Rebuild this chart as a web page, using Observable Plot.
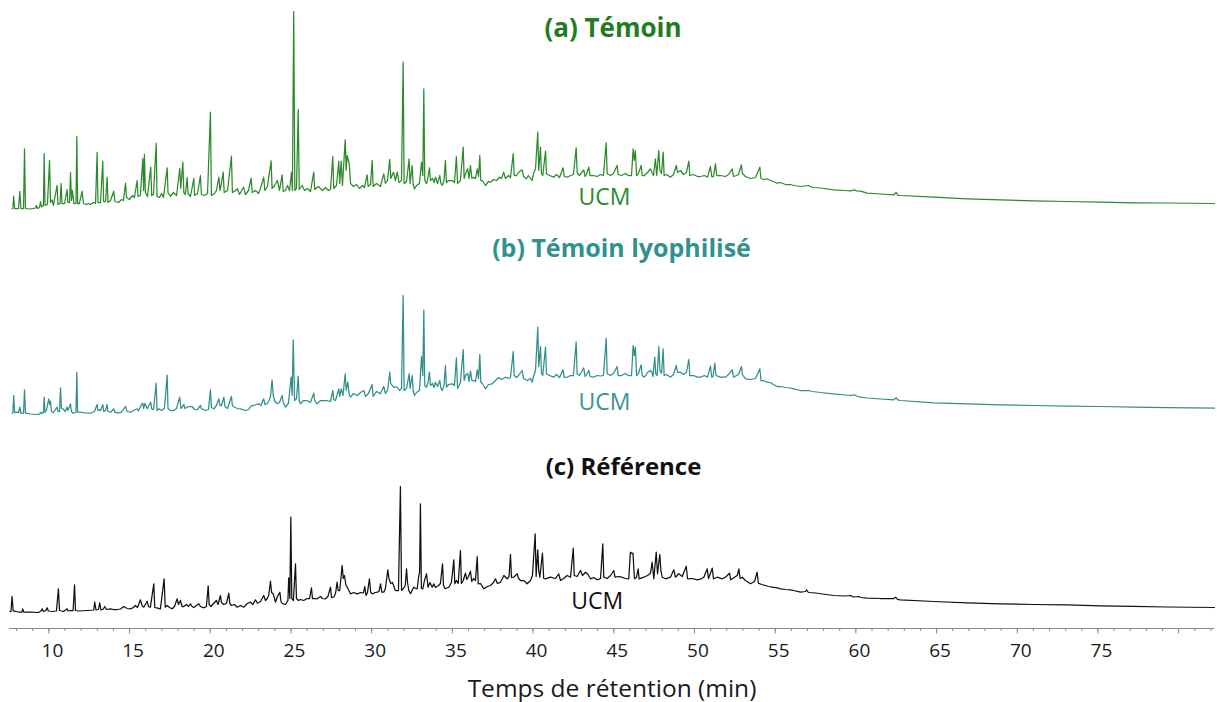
<!DOCTYPE html>
<html><head><meta charset="utf-8">
<script src="https://cdn.jsdelivr.net/npm/d3@7"></script>
<script src="https://cdn.jsdelivr.net/npm/@observablehq/plot@0.6"></script>
<style>
html,body{margin:0;padding:0;background:#fff;}
#chart{width:1217px;height:702px;}
</style></head><body><div id="chart"></div>
<script>
// ---- Data (retention time in min, signal in arbitrary units) ----
const sampleKeys = ["a", "b", "c"];
const sampleTitles = ["(a) Témoin", "(b) Témoin lyophilisé", "(c) Référence"];
const ucmLabel = "UCM";
const axisTitle = "Temps de rétention (min)";
const majorTicks = [10, 15, 20, 25, 30, 35, 40, 45, 50, 55, 60, 65, 70, 75, 80];
const majorTickLabels = ["10","15","20","25","30","35","40","45","50","55","60","65","70","75",""];
const minorTicks = [8,9,10,11,12,13,14,15,16,17,18,19,20,21,22,23,24,25,26,27,28,29,30,31,32,33,34,35,36,37,38,39,40,41,42,43,44,45,46,47,48,49,50,51,52,53,54,55,56,57,58,59,60,61,62,63,64,65,66,67,68,69,70,71,72,73,74,75,76,77,78,79,80,81,82];

const temoin = [
[7.72,15.7],[7.77,16],[7.82,28.3],[7.88,16],[8.12,16],[8.20,33],[8.27,16],[8.43,16],[8.49,75.7],[8.55,16],
[8.86,15.5],[9.17,16.5],[9.23,19],[9.29,16],[9.42,17],[9.48,23],[9.54,17.5],[9.66,19],[9.71,71],[9.76,19],
[9.91,20],[10.04,64],[10.10,22],[10.20,24.7],[10.28,19],[10.51,39],[10.56,20],[10.69,21],[10.76,41],[10.81,21],
[10.97,21],[11.13,35],[11.18,22],[11.28,22],[11.34,52],[11.40,24],[11.46,34],[11.55,21],[11.68,21],[11.73,88],
[11.78,21],[11.89,21],[12.06,33.3],[12.14,21],[12.33,20],[12.45,21],[12.58,20],[12.76,22],[12.89,21],[12.99,72],
[13.04,22],[13.20,22],[13.34,63.3],[13.39,23],[13.51,23],[13.61,47.3],[13.66,22],[13.82,24],[14.02,33.3],[14.09,23],
[14.31,22],[14.50,25],[14.62,24],[14.75,41.3],[14.81,27],[14.99,25],[15.18,29],[15.30,27],[15.47,44],[15.52,28],
[15.67,29],[15.82,66],[15.87,34],[15.92,70],[15.98,32],[16.11,28],[16.31,57.3],[16.37,29],[16.48,30],[16.65,81.3],
[16.70,28],[16.85,27],[16.98,31],[17.10,27],[17.33,56.7],[17.38,32],[17.53,28],[17.72,32],[17.91,29],[18.11,56],
[18.17,36],[18.30,62.3],[18.36,32],[18.46,30],[18.57,47],[18.62,31],[18.77,28],[18.98,46],[19.03,29],[19.21,31],
[19.39,49],[19.45,30],[19.64,29],[19.83,31],[20.01,112.3],[20.07,29],[20.26,31],[20.38,34],[20.53,47.3],[20.60,34],
[20.69,41],[20.80,52.3],[20.86,32],[21.07,34],[21.31,68.3],[21.37,32],[21.56,34],[21.68,35.7],[21.81,30],[22.06,37.3],
[22.18,30],[22.37,34],[22.53,46.3],[22.60,32],[22.80,34],[22.99,31],[23.11,36],[23.31,47.3],[23.38,34],[23.54,38],
[23.77,63.7],[23.83,36],[23.98,39],[24.16,44],[24.29,34],[24.45,49.7],[24.52,33],[24.66,34],[24.78,39],[24.91,34],
[25.03,52.3],[25.09,34],[25.17,213],[25.24,34],[25.34,36],[25.45,115],[25.51,35],[25.69,39],[25.84,34],[26.02,36],
[26.21,33],[26.41,52.3],[26.47,35],[26.70,38],[26.95,34],[27.14,37],[27.32,34],[27.45,35],[27.59,68],[27.65,36],
[27.82,39],[27.96,63.3],[28.02,41],[28.11,63.3],[28.19,39],[28.36,84.7],[28.42,54],[28.48,69],[28.61,60.7],[28.69,41],
[28.87,38],[29.06,40],[29.24,36],[29.43,39],[29.55,37],[29.72,49.7],[29.78,38],[29.93,40],[30.03,64],[30.09,38],
[30.30,41],[30.54,38],[30.75,50.7],[30.85,41],[30.98,44],[31.12,65],[31.18,46],[31.35,52.3],[31.47,44],[31.58,52.3],
[31.69,42],[31.85,44],[31.95,162.3],[32.01,41],[32.16,43],[32.32,65.7],[32.38,41],[32.51,59],[32.57,40],[32.65,35.7],
[32.78,39],[32.96,41],[33.09,62.3],[33.17,49],[33.23,135.7],[33.29,44],[33.40,40.7],[33.49,48],[33.58,56.7],[33.64,44],
[33.77,46],[33.87,42],[33.95,47.3],[34.08,41],[34.22,49],[34.29,41],[34.37,39],[34.48,44],[34.57,64],[34.63,42],
[34.76,44],[34.99,44],[35.13,42],[35.25,68],[35.32,41],[35.50,44],[35.67,77.3],[35.73,46],[35.81,50.7],[35.95,55.7],
[36.03,46],[36.12,59],[36.21,46],[36.33,47.3],[36.43,46],[36.54,55.7],[36.62,48],[36.70,69],[36.76,44],[36.86,44],
[37.05,39],[37.24,43],[37.36,42.3],[37.55,45],[37.73,44],[37.92,47.3],[38.04,46],[38.18,52.3],[38.29,46],[38.48,49],
[38.60,47],[38.77,70.7],[38.83,49],[38.97,49],[39.10,52],[39.32,54.7],[39.41,48],[39.59,45.7],[39.71,49],[39.94,44],
[40.03,51],[40.15,55.7],[40.29,92.3],[40.35,54],[40.46,77.3],[40.52,51],[40.60,49],[40.77,73.3],[40.83,50.7],[41.02,49],
[41.28,47.3],[41.45,50],[41.64,47],[41.86,56.7],[41.93,48],[42.11,47.3],[42.32,49],[42.50,50],[42.67,76.7],[42.73,52],
[42.87,49],[43.14,54.7],[43.22,48],[43.31,50],[43.45,57.3],[43.53,49],[43.74,49],[43.97,48],[44.18,50],[44.36,49],
[44.53,81.7],[44.59,50.7],[44.80,49],[44.98,51],[45.21,59],[45.27,50],[45.48,49],[45.72,51],[45.91,49],[46.10,49],
[46.20,75.7],[46.27,64],[46.34,74],[46.41,49],[46.53,51],[46.70,59],[46.76,49],[46.90,49],[47.09,52],[47.27,55.7],
[47.37,52],[47.46,49],[47.58,65.7],[47.66,49],[47.79,74],[47.86,54],[47.96,51],[48.06,72.3],[48.12,49],[48.27,50],
[48.51,47.3],[48.70,50],[48.88,59],[48.95,52],[49.13,54],[49.32,50],[49.50,52],[49.65,63.3],[49.71,49],[49.94,50],
[50.19,48],[50.37,48],[50.62,49],[50.81,47.3],[50.99,58],[51.07,48],[51.18,48],[51.30,60.7],[51.38,49],[51.61,49],
[51.92,48],[52.11,50],[52.34,55.7],[52.42,48],[52.60,49],[52.73,50],[52.91,59.7],[52.97,51],[53.16,48],[53.47,46],
[53.78,47],[54.05,57.3],[54.12,46],[54.28,45],[54.50,45.7],[54.71,44],[54.89,43],[55.12,41.3],[55.33,42],[55.64,40],
[55.95,40],[56.15,39],[56.57,38],[57.06,39],[57.31,37],[57.81,36.5],[58.61,34.7],[59.36,34],[59.67,33.7],[59.91,34.7],
[60.04,33.5],[60.29,33.3],[60.70,31.3],[61.52,30.5],[62.35,29.7],[62.50,32],[62.61,29.2],[62.76,29],[64.83,27.3],[66.90,25.7],
[68.96,24.7],[71.00,23.7],[73.09,23],[75.16,22.3],[77.20,21.7],[79.29,21.5],[82.22,21]
];

const temoinLyophilise = [
[7.72,13.3],[7.77,13.5],[7.82,31],[7.88,14],[8.03,14.3],[8.12,14],[8.20,19.3],[8.27,13.3],[8.43,13.3],[8.49,36.7],
[8.55,13.3],[8.86,12.5],[9.17,12],[9.42,12.3],[9.48,14.3],[9.57,13],[9.66,14],[9.71,29.3],[9.76,14],[9.85,16],
[9.99,27.7],[10.05,22],[10.10,25.3],[10.16,15],[10.28,14],[10.51,19.3],[10.56,15],[10.66,15],[10.72,38.7],[10.78,18],
[10.88,17.7],[11.00,15],[11.13,19.3],[11.18,16],[11.34,22.7],[11.40,15],[11.50,13.3],[11.68,14],[11.73,54],[11.78,14.3],
[11.91,14.3],[12.27,13.5],[12.58,13.3],[12.82,15],[12.99,22],[13.04,16],[13.15,16.7],[13.21,16],[13.34,22],[13.40,15],
[13.51,16],[13.61,22],[13.66,15],[13.82,14.3],[14.02,17.7],[14.09,14.3],[14.31,13.3],[14.50,14.3],[14.75,20],[14.84,15],
[15.05,14.3],[15.24,16],[15.47,17.7],[15.55,15.5],[15.71,21],[15.82,23.3],[15.87,18],[15.95,23],[16.09,17.7],[16.31,24.3],
[16.37,17.7],[16.48,17],[16.65,43.3],[16.70,16],[16.81,17.7],[16.98,16],[17.16,18],[17.33,51.3],[17.38,18],[17.53,16],
[17.74,16],[17.91,18],[18.11,29.3],[18.18,18],[18.28,20],[18.36,22],[18.43,18],[18.65,20],[18.88,20],[19.02,17],
[19.19,16.7],[19.39,21],[19.45,18],[19.70,16],[19.89,17],[20.01,36.7],[20.07,19],[20.22,17.7],[20.38,21],[20.53,27.7],
[20.60,21],[20.69,21],[20.84,29.3],[20.91,20],[21.07,18],[21.31,30],[21.37,21],[21.50,19.3],[21.68,18],[21.87,17.7],
[22.18,16],[22.37,17],[22.55,21],[22.69,21],[22.86,22],[23.00,22.7],[23.14,21],[23.31,27.7],[23.39,22],[23.52,22.7],
[23.64,26],[23.73,30],[23.83,46.7],[23.90,31],[23.98,26],[24.14,22.7],[24.29,24],[24.45,31],[24.52,24],[24.66,19.3],
[24.84,23],[25.01,49.3],[25.07,31],[25.14,86.7],[25.22,26],[25.34,28],[25.45,50.3],[25.51,26],[25.59,22.7],[25.77,26],
[26.00,26],[26.21,24],[26.41,33.3],[26.47,26],[26.62,22.7],[26.83,26],[27.03,26],[27.24,26],[27.45,25],[27.59,36],
[27.65,27],[27.76,26],[27.96,37.7],[28.02,30],[28.11,37.7],[28.22,31],[28.36,52.7],[28.42,36],[28.52,44.3],[28.62,31],
[28.69,29.3],[28.87,33],[29.10,31],[29.31,34],[29.51,36],[29.62,30],[29.80,33],[30.03,42],[30.09,30],[30.30,35],
[30.54,32.7],[30.75,40],[30.85,33],[31.00,37],[31.12,54.3],[31.18,43],[31.35,39.3],[31.58,39.3],[31.72,36],[31.85,38],
[31.95,131],[32.01,36],[32.16,38],[32.32,52.7],[32.38,38],[32.51,51],[32.57,36],[32.65,31],[32.78,34],[32.96,36],
[33.09,70],[33.17,51],[33.23,116.7],[33.29,41],[33.40,39.3],[33.49,44],[33.58,54.3],[33.64,41],[33.77,43],[33.87,39],
[33.95,44.3],[34.08,40],[34.22,46],[34.29,38],[34.37,36],[34.48,41],[34.57,61],[34.63,39.3],[34.76,42],[34.99,42.7],
[35.13,41],[35.25,68.7],[35.32,38],[35.50,44],[35.67,77],[35.73,46],[35.81,51],[35.95,53],[36.03,45],[36.12,55.3],
[36.21,46],[36.33,46],[36.43,45],[36.54,56.7],[36.62,48],[36.70,72],[36.76,44.3],[36.86,43],[37.05,37.7],[37.24,42],
[37.47,42.7],[37.67,46],[37.86,49],[38.04,47],[38.29,49.3],[38.48,48],[38.60,49],[38.77,75],[38.83,51],[38.97,49],
[39.10,51],[39.32,56],[39.41,48],[39.64,46],[39.84,48],[39.94,44.3],[40.03,50],[40.15,56],[40.29,99.3],[40.35,60],
[40.46,80],[40.52,53],[40.60,51],[40.77,79.3],[40.83,52.7],[41.02,51],[41.28,49.3],[41.45,52],[41.64,49],[41.86,56.7],
[41.93,49],[42.11,49.3],[42.32,51],[42.50,51],[42.67,84.7],[42.73,52.7],[42.87,51],[43.14,58.7],[43.22,50],[43.31,52],
[43.45,56],[43.53,50],[43.74,49.3],[43.97,51],[44.18,50.5],[44.36,51],[44.53,88.3],[44.59,52.7],[44.80,51],[44.98,53],
[45.21,60],[45.27,51],[45.48,51],[45.72,53],[45.91,51],[46.10,51],[46.20,81],[46.27,71],[46.34,79.3],[46.41,51],
[46.53,53],[46.70,61.7],[46.76,51],[46.90,49.3],[47.09,54],[47.27,56],[47.37,54],[47.43,50],[47.54,69.3],[47.60,52.7],
[47.69,51],[47.79,80],[47.86,56],[47.96,53],[48.06,77.7],[48.12,51],[48.27,52],[48.51,49.3],[48.70,52],[48.88,61],
[48.95,54],[49.13,54.3],[49.32,52],[49.50,54],[49.65,67],[49.71,51],[49.94,51],[50.19,49.3],[50.37,49.3],[50.62,51],
[50.81,49.3],[50.99,60.3],[51.07,49.3],[51.15,50],[51.26,63.3],[51.33,51],[51.61,49.3],[51.92,49.3],[52.11,52],[52.34,56.7],
[52.42,49.3],[52.60,51],[52.73,52],[52.91,60],[52.97,52],[53.16,47.7],[53.47,47],[53.78,48],[54.05,57.7],[54.12,46],
[54.28,46],[54.50,44.3],[54.71,44],[54.89,42],[55.12,40],[55.33,40],[55.64,39],[55.95,38.5],[56.15,37.7],[56.57,36],
[57.06,36],[57.31,35],[57.81,34],[58.61,32.7],[59.36,31.5],[59.67,31],[59.91,31.7],[60.04,30.5],[60.29,29.3],[60.70,28.5],
[61.52,27.5],[62.35,26.7],[62.50,28.7],[62.61,26.5],[62.76,26],[64.83,23.7],[66.90,22.7],[68.96,21.7],[71.00,21],[73.09,20.3],
[75.16,20],[77.20,19.3],[79.29,18.8],[82.22,18.3]
];

const reference = [
[7.58,17],[7.65,17],[7.72,32],[7.79,17.5],[7.87,17.3],[8.12,16.5],[8.33,16.5],[8.38,19.7],[8.44,16.3],[8.86,16.3],
[9.35,16],[9.51,17.5],[9.58,19.7],[9.66,17],[9.82,18],[9.89,20.7],[9.97,17.5],[10.22,17],[10.47,17.5],[10.59,39.7],
[10.66,18],[10.90,17],[11.13,19.7],[11.19,17.5],[11.34,18],[11.50,18],[11.59,43.7],[11.65,18],[11.83,17.5],[12.37,18],
[12.78,18.5],[12.84,26.3],[12.92,18.5],[13.07,19],[13.15,25.7],[13.23,18.5],[13.38,19.5],[13.46,22],[13.57,19],[13.82,19.7],
[14.00,19],[14.23,19],[14.44,19.5],[14.64,22],[14.85,20],[15.05,19.7],[15.24,21],[15.36,23],[15.49,21],[15.67,28.7],
[15.77,23],[15.88,21.3],[16.09,27.3],[16.17,22],[16.29,21.3],[16.50,44.7],[16.56,21],[16.67,20.7],[16.91,19.7],[17.14,49.7],
[17.21,21.3],[17.33,23],[17.47,21],[17.64,19.7],[17.78,22],[17.95,29.7],[18.03,24],[18.15,28],[18.25,22],[18.36,22],
[18.52,24],[18.65,22],[18.77,24.7],[18.87,22],[18.98,21],[19.14,23],[19.29,24.7],[19.39,22],[19.60,20.7],[19.76,22],
[19.87,42.7],[19.93,24],[20.05,22],[20.20,25],[20.38,28],[20.48,24],[20.63,33],[20.69,26],[20.84,24],[21.00,25],
[21.15,35.3],[21.21,25],[21.31,23],[21.50,24],[21.67,21.3],[21.87,23],[22.08,21.3],[22.29,25],[22.49,26.3],[22.64,24],
[22.80,28.7],[22.92,25.3],[23.11,27],[23.31,33],[23.42,28],[23.52,29.7],[23.62,33],[23.73,47.3],[23.80,36],[23.90,34.7],
[24.04,26.3],[24.16,32],[24.31,36.3],[24.38,27],[24.47,25],[24.66,24],[24.81,28],[24.86,50.7],[24.93,30],[24.99,111.3],
[25.05,30],[25.15,28],[25.28,64.7],[25.34,30],[25.46,28],[25.59,29],[25.79,28],[26.00,30],[26.15,30],[26.27,40.7],
[26.33,30],[26.46,30],[26.62,29.7],[26.83,32],[26.95,30],[27.14,29.7],[27.29,32],[27.45,41.3],[27.51,31],[27.65,31.3],
[27.76,35],[27.86,46.3],[27.92,38],[28.02,38],[28.17,63],[28.24,50],[28.31,53],[28.41,43],[28.48,41.3],[28.69,34.7],
[28.89,36],[29.10,34.7],[29.31,36],[29.49,35.5],[29.57,42],[29.65,33],[29.74,36],[29.86,49.7],[29.94,36],[30.03,34.7],
[30.23,36],[30.34,36.3],[30.45,37],[30.55,44.7],[30.63,36.3],[30.75,36.3],[30.85,40],[31.00,58.7],[31.07,50],[31.18,45],
[31.29,46],[31.47,38],[31.66,38],[31.78,142],[31.85,38],[31.97,40],[32.08,43],[32.16,59.7],[32.22,46],[32.30,38],
[32.41,34.7],[32.50,38],[32.61,41.3],[32.71,40],[32.82,39.7],[32.92,53],[32.97,56],[33.02,124.7],[33.08,40],[33.17,39.7],
[33.27,48],[33.40,54.7],[33.49,41.3],[33.61,46],[33.75,41.3],[33.85,44.7],[33.95,41],[34.14,43],[34.26,45],[34.39,64.7],
[34.45,43],[34.55,39.7],[34.78,41.3],[34.94,46],[35.09,68.7],[35.15,44.7],[35.25,48],[35.36,45],[35.50,78],[35.56,45],
[35.67,48],[35.81,55.3],[35.89,49],[36.00,52],[36.12,57.3],[36.20,47],[36.31,50],[36.43,48],[36.54,72],[36.60,44.7],
[36.74,45],[36.95,39.7],[37.17,42],[37.36,43],[37.55,46],[37.67,49.7],[37.79,45],[37.98,46.3],[38.19,53],[38.40,49.7],
[38.51,52],[38.60,74],[38.66,51],[38.80,51.3],[39.02,54.7],[39.10,50],[39.22,48],[39.42,48],[39.63,44.7],[39.84,48],
[39.96,53],[40.13,94.7],[40.19,52],[40.29,78.7],[40.35,58],[40.42,51.3],[40.58,75.3],[40.66,50],[40.77,49.7],[41.08,51.3],
[41.39,50],[41.59,54.7],[41.70,48],[41.90,50],[42.11,53],[42.32,51.3],[42.49,80.3],[42.55,53],[42.73,52],[42.94,58],
[43.06,53],[43.25,56.3],[43.40,54],[43.56,49.7],[43.76,51],[43.97,48.7],[44.18,50],[44.32,84.7],[44.38,51.3],[44.59,50],
[44.80,53],[45.00,58],[45.08,51.3],[45.29,52],[45.48,51.3],[45.73,50],[45.93,49.7],[46.03,76.3],[46.13,75],[46.19,75.3],
[46.28,49.7],[46.41,51.3],[46.51,59.7],[46.57,49.7],[46.86,51.3],[47.09,53],[47.27,55],[47.38,66.3],[47.48,49.7],[47.63,76.3],
[47.71,54.7],[47.85,74],[47.92,58],[48.00,51.3],[48.20,49.7],[48.51,51.3],[48.72,58.7],[48.82,51.3],[49.03,54.7],[49.24,52],
[49.49,62.3],[49.57,49.7],[49.86,50],[50.17,48.7],[50.37,49.3],[50.58,51.3],[50.79,59.7],[50.87,50],[51.10,60.3],[51.18,49.7],
[51.41,51.3],[51.72,49.7],[51.92,51.3],[52.17,55.3],[52.25,48.7],[52.48,51.3],[52.65,53],[52.75,59.7],[52.83,50],[52.96,51.3],
[53.16,48],[53.47,44.7],[53.72,47],[53.88,56.3],[53.96,45.3],[54.15,44],[54.40,43],[54.59,42],[54.83,41.3],[55.12,40.7],
[55.33,39.7],[55.64,39],[55.95,38.7],[56.15,38],[56.57,36.3],[56.88,37],[56.94,38.7],[57.06,36],[57.50,35.5],[57.93,34.5],
[58.61,33],[59.36,32.5],[59.67,33],[59.85,31.5],[60.18,32],[60.29,31],[60.70,30.3],[61.52,30],[62.35,30],[62.46,31.3],
[62.58,29.2],[62.76,28.7],[64.83,27],[66.90,25.7],[68.96,24.7],[71.00,24],[73.09,23.7],[75.16,22.7],[77.20,22.2],[79.29,21.5],
[82.22,21]
];

// ---- Styles ----
const lineColors = {a: "#2b8a2b", b: "#2f8f89", c: "#111111"};
const titleColors = {a: "#1f7d1f", b: "#31918d", c: "#111111"};
const font = '"Open Sans", "DejaVu Sans", sans-serif';

const series = [temoin, temoinLyophilise, reference];

const marks = [];
sampleKeys.forEach((k, i) => {
  marks.push(Plot.line(series[i], {
    x: d => d[0], y: d => d[1], fy: () => k,
    stroke: lineColors[k], strokeWidth: 1.25, strokeLinejoin: "round"
  }));
});

// Titles
const titleDx = {a: 1, b: 9.5, c: 11.5};
const titleDy = {a: 6.3, b: 24.3, c: 40.5};
const titleSize = {a: 26, b: 25, c: 24};
sampleKeys.forEach((k, i) => {
  marks.push(Plot.text([sampleTitles[i]], {
    text: d => d, fy: () => k, frameAnchor: "top", lineAnchor: "middle",
    dx: titleDx[k], dy: titleDy[k], fill: titleColors[k],
    fontSize: titleSize[k], fontWeight: "bold", fontFamily: font
  }));
});

// UCM labels
const ucmDx = {a: -7.5, b: -7.5, c: -14.8};
const ucmDy = {a: 175.3, b: 178.6, c: 174.9};
const ucmColors = {a: "#2b8a2b", b: "#3a9390", c: "#111111"};
sampleKeys.forEach(k => {
  marks.push(Plot.text([ucmLabel], {
    text: d => d, fy: () => k, frameAnchor: "top", lineAnchor: "middle",
    dx: ucmDx[k], dy: ucmDy[k], fill: ucmColors[k],
    fontSize: 23, fontFamily: font
  }));
});

// X axis (bottom panel only)
marks.push(Plot.ruleY([0], {fy: () => "c", stroke: "#8a8a8a", strokeWidth: 1}));
marks.push(Plot.axisX(minorTicks, {tickSize: 3, tickFormat: () => "", stroke: "#8a8a8a"}));
marks.push(Plot.axisX(majorTicks, {tickSize: 5.5, tickFormat: () => "", stroke: "#8a8a8a"}));
marks.push(Plot.axisX(majorTicks, {
  tickSize: 0, tickPadding: 15, dx: 3.5,
  tickFormat: d => majorTickLabels[majorTicks.indexOf(d)],
  fontSize: 19, fill: "#1a1a1a", fontFamily: font
}));
marks.push(Plot.text([axisTitle], {
  text: d => d, fy: () => "c", frameAnchor: "bottom", lineAnchor: "middle",
  dy: 61, fontSize: 24.5, fill: "#1a1a1a", fontFamily: font
}));

const chart = Plot.plot({
  width: 1217, height: 702,
  marginTop: 22, marginBottom: 74, marginLeft: 9, marginRight: 3,
  style: {fontFamily: font, background: "#ffffff", overflow: "visible"},
  x: {domain: [7.56, 82.22], axis: null},
  y: {domain: [0, 202], axis: null},
  fy: {domain: sampleKeys, padding: 0, axis: null},
  marks
});
document.getElementById("chart").appendChild(chart);
</script>
</body></html>
